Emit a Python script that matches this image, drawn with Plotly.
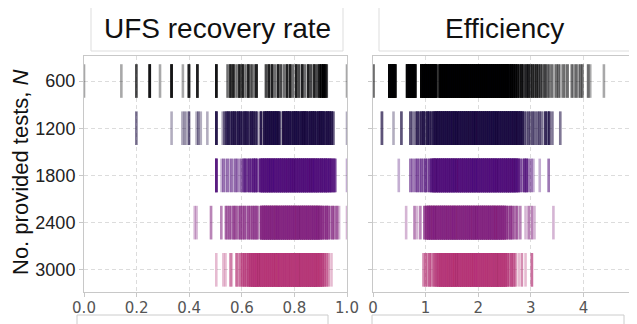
import numpy as np
import plotly.graph_objects as go

# ---------------- data ----------------
categories = ["600", "1200", "1800", "2400", "3000"]
x_ticks_ufs = [0.0, 0.2, 0.4, 0.6, 0.8, 1.0]
x_ticklabels_ufs = ["0.0", "0.2", "0.4", "0.6", "0.8", "1.0"]
x_ticks_eff = [0, 1, 2, 3, 4, 5]
x_ticklabels_eff = ["0", "1", "2", "3", "4", "5"]
panel_titles = ["UFS recovery rate", "Efficiency"]
y_title = "No. provided tests, <i>N</i>"

# (value, number of runs at that value)
ufs_600 = [(0.000, 1), (0.142, 1), (0.199, 3), (0.250, 6), (0.289, 1), (0.333, 6), (0.376, 1),
           (0.399, 5), (0.431, 5), (0.503, 6),
           (0.546, 2), (0.557, 5), (0.568, 5), (0.580, 2), (0.591, 5), (0.603, 5), (0.614, 2),
           (0.625, 5), (0.637, 3), (0.648, 2), (0.656, 5),
           (0.692, 3), (0.703, 5), (0.715, 5), (0.726, 2), (0.738, 5), (0.749, 3), (0.761, 2),
           (0.772, 5), (0.784, 5), (0.795, 2), (0.807, 5), (0.818, 3), (0.830, 5), (0.841, 2),
           (0.853, 5), (0.864, 3), (0.876, 5), (0.887, 3), (0.896, 6), (0.903, 6), (0.910, 8),
           (0.917, 6), (0.923, 3), (1.000, 1)]
ufs_1200 = [(0.199, 2), (0.333, 1), (0.374, 1), (0.381, 1), (0.387, 1), (0.399, 3), (0.428, 1),
            (0.435, 2), (0.444, 1), (0.469, 1), (0.503, 7),
            (0.527, 1), (0.533, 2), (0.540, 4), (0.548, 6), (0.556, 4), (0.564, 6), (0.572, 7),
            (0.580, 4), (0.588, 7), (0.596, 6), (0.604, 4), (0.612, 7), (0.620, 6), (0.628, 4),
            (0.636, 7), (0.644, 6), (0.652, 4), (0.658, 3), (0.673, 7),
            (0.686, 8), (0.694, 10), (0.702, 10), (0.710, 10), (0.718, 10), (0.726, 10), (0.734, 10),
            (0.742, 8),
            (0.757, 8), (0.765, 9), (0.773, 10), (0.781, 9), (0.789, 6), (0.797, 9), (0.805, 10),
            (0.813, 9), (0.821, 6), (0.829, 9), (0.837, 10), (0.845, 9), (0.853, 6), (0.861, 9),
            (0.869, 10), (0.877, 9), (0.885, 6), (0.893, 9), (0.901, 10), (0.909, 9), (0.917, 6),
            (0.925, 9), (0.933, 8), (0.941, 6), (0.948, 3), (1.000, 1)]
ufs_1800 = [(0.503, 7), (0.523, 1), (0.530, 2), (0.537, 1), (0.545, 2), (0.552, 1), (0.560, 2),
            (0.567, 1), (0.575, 2), (0.582, 2), (0.590, 1), (0.597, 2), (0.605, 3), (0.612, 5),
            (0.620, 3), (0.628, 5), (0.636, 4), (0.644, 6), (0.652, 6), (0.659, 4),
            (0.671, 8), (0.679, 10), (0.687, 10), (0.695, 10), (0.703, 10), (0.711, 10), (0.719, 10),
            (0.727, 10), (0.735, 10), (0.743, 10), (0.751, 10), (0.759, 10), (0.767, 10), (0.775, 10),
            (0.783, 10), (0.791, 10), (0.799, 10), (0.807, 10), (0.815, 10), (0.823, 10), (0.831, 10),
            (0.839, 10), (0.847, 10), (0.855, 10), (0.863, 10), (0.871, 10), (0.879, 10), (0.887, 10),
            (0.895, 8), (0.903, 10), (0.911, 8), (0.919, 10), (0.927, 8), (0.935, 8), (0.943, 6),
            (0.951, 5), (0.956, 2), (1.000, 1)]
ufs_2400 = [(0.421, 1), (0.428, 1), (0.483, 2), (0.522, 2), (0.540, 3), (0.547, 2), (0.554, 3),
            (0.562, 2), (0.570, 4), (0.578, 3), (0.586, 2), (0.594, 4), (0.602, 3), (0.610, 4),
            (0.618, 2), (0.626, 4), (0.634, 3), (0.642, 4), (0.650, 4), (0.658, 4), (0.666, 1),
            (0.674, 8), (0.682, 10), (0.690, 10), (0.698, 10), (0.706, 10), (0.714, 10), (0.722, 10),
            (0.730, 10), (0.738, 10), (0.746, 10), (0.754, 10), (0.762, 10), (0.770, 10), (0.778, 10),
            (0.786, 10), (0.794, 10), (0.802, 10), (0.810, 10), (0.818, 10), (0.826, 10), (0.834, 10),
            (0.842, 10), (0.850, 10), (0.858, 10), (0.866, 10), (0.874, 10), (0.882, 10), (0.890, 10),
            (0.898, 8), (0.906, 6), (0.914, 4), (0.922, 6), (0.930, 4), (0.938, 2), (0.946, 4),
            (0.954, 2), (0.962, 3), (0.970, 1), (1.000, 1)]
ufs_3000 = [(0.503, 1), (0.530, 1), (0.538, 1), (0.557, 2), (0.562, 1), (0.579, 2), (0.584, 2),
            (0.594, 3), (0.602, 4), (0.610, 5), (0.618, 4), (0.626, 6), (0.634, 8), (0.642, 10),
            (0.650, 10), (0.658, 10), (0.666, 10), (0.674, 10), (0.682, 10), (0.690, 10), (0.698, 10),
            (0.706, 10), (0.714, 10), (0.722, 10), (0.730, 10), (0.738, 10), (0.746, 10), (0.754, 10),
            (0.762, 10), (0.770, 10), (0.778, 10), (0.786, 10), (0.794, 10), (0.802, 10), (0.810, 10),
            (0.818, 10), (0.826, 10), (0.834, 10), (0.842, 10), (0.850, 10), (0.858, 10), (0.866, 10),
            (0.874, 10), (0.882, 10), (0.890, 8), (0.898, 8), (0.906, 6), (0.914, 4), (0.922, 3),
            (0.930, 2), (0.941, 1)]

eff_600 = [(0.01, 2), (0.31, 10), (0.35, 12), (0.39, 12), (0.42, 10),
           (0.65, 10), (0.69, 12), (0.73, 12), (0.77, 12), (0.80, 10),
           (0.92, 10), (0.96, 12), (1.00, 12), (1.04, 12), (1.08, 12), (1.12, 12), (1.16, 12), (1.20, 10),
           (1.27, 10), (1.31, 12), (1.35, 12), (1.39, 12), (1.43, 12), (1.47, 12), (1.51, 12), (1.55, 12),
           (1.59, 12), (1.63, 12), (1.67, 12), (1.71, 12), (1.75, 12), (1.79, 12), (1.83, 12), (1.87, 12),
           (1.91, 12), (1.95, 12), (1.99, 12), (2.03, 12), (2.07, 12), (2.11, 12), (2.15, 12), (2.19, 12),
           (2.23, 12), (2.27, 12), (2.31, 12), (2.35, 12), (2.39, 12), (2.43, 12), (2.47, 12), (2.51, 12),
           (2.55, 11), (2.59, 9), (2.63, 10), (2.67, 8), (2.71, 7),
           (2.75, 6), (2.79, 4), (2.83, 6), (2.87, 3), (2.91, 4), (2.95, 5), (2.99, 3), (3.03, 4),
           (3.07, 3), (3.11, 4), (3.15, 3), (3.19, 3), (3.23, 2), (3.27, 3), (3.31, 2), (3.35, 2),
           (3.40, 2), (3.45, 1), (3.49, 2), (3.53, 2), (3.57, 1), (3.62, 2), (3.66, 1), (3.70, 2),
           (3.78, 2), (3.82, 1), (3.86, 2), (3.90, 1), (3.94, 2), (3.98, 2),
           (4.09, 2), (4.13, 1), (4.39, 1)]
eff_1200 = [(0.17, 3), (0.39, 1), (0.54, 3), (0.71, 3), (0.75, 2),
            (0.80, 2), (0.84, 5), (0.88, 3), (0.92, 5), (0.96, 7), (1.00, 3), (1.04, 7), (1.08, 5),
            (1.12, 4), (1.16, 7), (1.20, 9),
            (1.24, 10), (1.28, 10), (1.32, 10), (1.36, 10), (1.40, 10), (1.44, 10), (1.48, 10), (1.52, 10),
            (1.56, 10), (1.60, 10), (1.64, 10), (1.68, 10), (1.72, 10), (1.76, 10), (1.80, 10), (1.84, 10),
            (1.88, 10), (1.92, 10), (1.96, 10), (2.00, 10), (2.04, 10), (2.08, 10), (2.12, 10), (2.16, 10),
            (2.20, 10), (2.24, 10), (2.28, 10), (2.32, 10), (2.36, 10), (2.40, 10), (2.44, 10), (2.48, 10),
            (2.52, 10), (2.56, 10), (2.60, 10), (2.64, 10), (2.68, 10), (2.72, 10), (2.76, 10), (2.80, 9),
            (2.84, 7),
            (2.88, 3), (2.92, 2), (2.96, 3), (3.00, 2), (3.04, 3), (3.08, 2), (3.12, 2), (3.16, 3),
            (3.20, 2), (3.24, 1), (3.28, 5), (3.32, 2), (3.35, 5), (3.41, 2), (3.56, 2)]
eff_1800 = [(0.49, 1), (0.71, 2), (0.75, 2),
            (0.80, 2), (0.84, 3), (0.88, 2), (0.92, 3), (0.96, 2), (1.00, 4), (1.04, 2), (1.08, 4),
            (1.12, 7),
            (1.16, 10), (1.20, 10), (1.24, 10), (1.28, 10), (1.32, 10), (1.36, 10), (1.40, 10), (1.44, 10),
            (1.48, 10), (1.52, 10), (1.56, 10), (1.60, 10), (1.64, 10), (1.68, 10), (1.72, 10), (1.76, 10),
            (1.80, 10), (1.84, 10), (1.88, 10), (1.92, 10), (1.96, 10), (2.00, 10), (2.04, 10), (2.08, 10),
            (2.12, 10), (2.16, 10), (2.20, 10), (2.24, 10), (2.28, 10), (2.32, 10), (2.36, 10), (2.40, 10),
            (2.44, 10), (2.48, 10), (2.52, 10), (2.56, 10), (2.60, 10), (2.64, 10), (2.68, 10), (2.72, 9),
            (2.76, 7),
            (2.80, 3), (2.84, 2), (2.88, 5), (2.92, 5), (2.96, 2), (3.01, 2), (3.05, 1), (3.17, 1),
            (3.34, 2)]
eff_2400 = [(0.63, 1), (0.79, 2), (0.84, 1), (0.90, 2), (0.98, 4), (1.02, 7),
            (1.06, 10), (1.10, 10), (1.14, 10), (1.18, 10), (1.22, 10), (1.26, 10), (1.30, 10), (1.34, 10),
            (1.38, 10), (1.42, 10), (1.46, 10), (1.50, 10), (1.54, 10), (1.58, 10), (1.62, 10), (1.66, 10),
            (1.70, 10), (1.74, 10), (1.78, 10), (1.82, 10), (1.86, 10), (1.90, 10), (1.94, 10), (1.98, 10),
            (2.02, 10), (2.06, 10), (2.10, 10), (2.14, 10), (2.18, 10), (2.22, 10), (2.26, 10), (2.30, 10),
            (2.34, 10), (2.38, 10), (2.42, 10), (2.46, 9), (2.50, 8),
            (2.54, 5), (2.58, 3), (2.62, 5), (2.66, 3), (2.70, 2), (2.74, 3), (2.80, 2), (2.90, 1),
            (2.96, 2), (3.02, 2), (3.07, 1), (3.43, 1)]
eff_3000 = [(0.96, 2), (1.00, 3), (1.04, 2), (1.08, 4), (1.12, 2), (1.16, 4), (1.20, 5), (1.24, 7),
            (1.28, 10), (1.32, 10), (1.36, 10), (1.40, 10), (1.44, 10), (1.48, 10), (1.52, 10), (1.56, 10),
            (1.60, 10), (1.64, 10), (1.68, 10), (1.72, 10), (1.76, 10), (1.80, 10), (1.84, 10), (1.88, 10),
            (1.92, 10), (1.96, 10), (2.00, 10), (2.04, 10), (2.08, 10), (2.12, 10), (2.16, 10), (2.20, 10),
            (2.24, 10), (2.28, 10), (2.32, 10), (2.36, 10), (2.40, 10), (2.44, 10), (2.48, 9), (2.52, 8),
            (2.56, 5), (2.60, 3), (2.64, 5), (2.68, 3), (2.71, 2), (2.77, 1), (2.83, 2), (2.90, 1),
            (3.02, 3)]

ufs_rows = [ufs_600, ufs_1200, ufs_1800, ufs_2400, ufs_3000]
eff_rows = [eff_600, eff_1200, eff_1800, eff_2400, eff_3000]
row_colors = [(0, 0, 4), (28, 16, 68), (81, 18, 124), (131, 37, 129), (183, 55, 121)]

# ---------------- figure ----------------
W, H = 637, 324
OFF = 8  # page offset of the figure inside the browser window

fig = go.Figure()


def px_x(p):
    return (p - OFF) / W


def px_y(p):
    return 1 - (p - OFF) / H


def add_rows(rows, xa, ya):
    for cat, row, col in zip(categories, rows, row_colors):
        vals = np.repeat([v for v, c in row], [c for v, c in row])
        rgba = "rgba(%d,%d,%d,0.34)" % col
        fig.add_trace(go.Scatter(
            x=vals, y=[cat] * len(vals), mode="markers",
            xaxis=xa, yaxis=ya, showlegend=False, hoverinfo="skip",
            marker=dict(symbol="line-ns-open", size=24, color=rgba,
                        line=dict(width=2.6, color=rgba)),
        ))


add_rows(ufs_rows, "x", "y")
add_rows(eff_rows, "x2", "y2")

grid = dict(showgrid=True, gridcolor="#dcdcdc", gridwidth=1, griddash="4px,3px",
            showline=True, mirror=True, linecolor="#c8c8c8", linewidth=1,
            zeroline=False, ticks="outside", ticklen=4, tickcolor="#c8c8c8",
            automargin=False)
xfont = dict(family="DejaVu Sans", size=15, color="#555555")
yfont = dict(family="Liberation Sans, Arial, sans-serif", size=18, color="#222222")
ydom = [px_y(292), px_y(56)]
yrange = [4.47, -0.53]

fig.update_layout(
    width=W, height=H, margin=dict(l=0, r=0, t=0, b=0, autoexpand=False),
    paper_bgcolor="white", plot_bgcolor="white",
    xaxis=dict(domain=[px_x(84), px_x(347)], range=[0, 1], tickvals=x_ticks_ufs,
               ticktext=x_ticklabels_ufs, tickfont=xfont, anchor="y",
               ticklabelstandoff=-2, **grid),
    xaxis2=dict(domain=[px_x(373), px_x(636)], range=[0, 5], tickvals=x_ticks_eff,
                ticktext=x_ticklabels_eff, tickfont=xfont, anchor="y2",
                ticklabelstandoff=-2, **grid),
    yaxis=dict(domain=ydom, type="category", categoryorder="array", categoryarray=categories,
               range=yrange, tickfont=yfont, anchor="x", **grid),
    yaxis2=dict(domain=ydom, type="category", categoryorder="array", categoryarray=categories,
                range=yrange, showticklabels=False, anchor="x2", **grid),
)

# title boxes
boxes = [(91, 343), (379, 630)]
for (x0, x1), t in zip(boxes, panel_titles):
    fig.add_shape(type="rect", xref="paper", yref="paper",
                  x0=px_x(x0), x1=px_x(x1), y0=px_y(51), y1=px_y(6),
                  line=dict(color="#dddddd", width=1), fillcolor="white", layer="below")
    fig.add_annotation(xref="paper", yref="paper", x=px_x((x0 + x1) / 2), y=px_y(29),
                       text=t, showarrow=False, xanchor="center", yanchor="middle",
                       font=dict(family="Liberation Sans, Arial, sans-serif", size=28, color="#111111"))

# bottom (cut-off) boxes
for x0, x1 in [(77, 328), (372, 624)]:
    fig.add_shape(type="rect", xref="paper", yref="paper",
                  x0=px_x(x0), x1=px_x(x1), y0=-0.2, y1=px_y(315),
                  line=dict(color="#cccccc", width=1), fillcolor="white")

fig.add_annotation(xref="paper", yref="paper", x=px_x(20), y=px_y(172), text=y_title,
                   textangle=-90, showarrow=False, xanchor="center", yanchor="middle",
                   font=dict(family="Liberation Sans, Arial, sans-serif", size=22, color="#111111"))

fig.write_html("out.html")
